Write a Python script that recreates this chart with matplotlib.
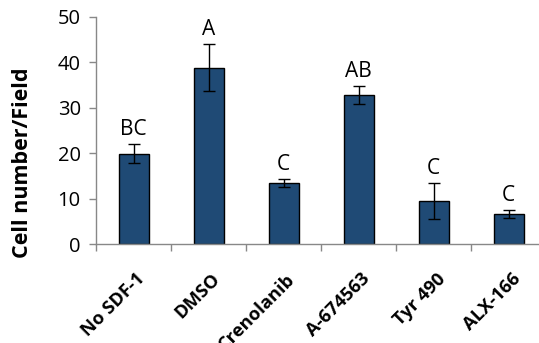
import numpy as np
import matplotlib.transforms as mtransforms
from matplotlib import pyplot as plt

treatments = ['No SDF-1', 'DMSO', 'Crenolanib', 'A-674563', 'Tyr 490', 'ALX-166']
cells_per_field = [19.9, 38.8, 13.4, 32.8, 9.5, 6.6]
sem = [2.1, 5.2, 0.9, 2.0, 4.0, 0.9]
groups = ['BC', 'A', 'C', 'AB', 'C', 'C']

plt.rcParams['font.family'] = ['Open Sans', 'DejaVu Sans']

fig = plt.figure(figsize=(5.39, 3.43), dpi=100)
# axis runs a little past the right edge of the figure
ax = fig.add_axes([96/539, 1 - 244.3/343, 450/539, (244.3 - 16.7)/343])

x = np.arange(len(treatments))
ax.bar(x, cells_per_field, width=0.4, color='#1F4A75', edgecolor='black',
       linewidth=1.0, zorder=2)
ax.errorbar(x, cells_per_field, yerr=sem, fmt='none', ecolor='black',
            elinewidth=1.0, capsize=4, capthick=1.0, zorder=3)

# significance letters above the error bars
for xi, v, e, g in zip(x, cells_per_field, sem, groups):
    ax.annotate(g, xy=(xi, v + e), xytext=(0, 3), textcoords='offset points',
                ha='center', va='bottom', fontsize=15)

ax.set_xlim(-0.5, len(treatments) - 0.5)
ax.set_ylim(0, 50)
ax.set_yticks(np.arange(0, 51, 10))
ax.tick_params(axis='y', labelsize=14.5, length=5, width=1, color='#888888',
               pad=6)

ax.set_xticks(x)
ax.set_xticklabels(treatments, rotation=45, ha='right', va='center',
                   rotation_mode='anchor', fontsize=13.2, fontweight='bold')
ax.tick_params(axis='x', which='major', length=0, pad=23)
shift = mtransforms.ScaledTranslation(9/100, 0, fig.dpi_scale_trans)
for lbl in ax.get_xticklabels():
    lbl.set_transform(lbl.get_transform() + shift)
ax.set_xticks(np.arange(len(treatments) + 1) - 0.5, minor=True)
ax.tick_params(axis='x', which='minor', length=5, width=1, color='#888888')

for side in ['top', 'right']:
    ax.spines[side].set_visible(False)
for side in ['left', 'bottom']:
    ax.spines[side].set_color('#888888')
    ax.spines[side].set_linewidth(1.0)

ax.set_ylabel('Cell number/Field', fontsize=15.5, fontweight='bold')
ax.yaxis.set_label_coords(-0.14, 0.36)

fig.savefig('out.png', dpi=100)
